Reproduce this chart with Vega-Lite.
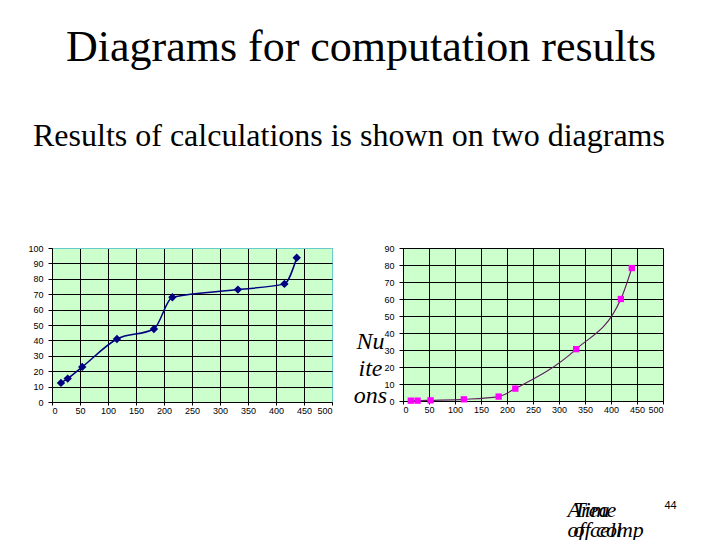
{
  "$schema": "https://vega.github.io/schema/vega-lite/v6.json",
  "background": "white",
  "padding": {"left": 27, "top": 25, "right": 5, "bottom": 0},
  "title": {"text": "Diagrams for computation results", "font": "Liberation Serif", "fontSize": 44, "fontWeight": "normal", "color": "black", "anchor": "middle", "offset": 50, "dx": 9},
  "bounds": "flush",
  "spacing": 71,
  "datasets": {
    "left": [
      {"x": 16, "y": 12.4}, {"x": 28, "y": 15.2}, {"x": 54, "y": 22.8}, {"x": 116, "y": 40.9},
      {"x": 182, "y": 47.4}, {"x": 215, "y": 68}, {"x": 332, "y": 73}, {"x": 415, "y": 76.7}, {"x": 437, "y": 93.7}
    ],
    "right": [
      {"x": 15, "y": 0.2}, {"x": 28, "y": 0.2}, {"x": 53, "y": 0.4}, {"x": 117, "y": 1},
      {"x": 184, "y": 2.6}, {"x": 216, "y": 7.3}, {"x": 333, "y": 30.5}, {"x": 419, "y": 60}, {"x": 440, "y": 78.2}
    ]
  },
  "config": {
    "axis": {"labelFont": "Liberation Sans", "labelFontSize": 9, "labelColor": "black", "domainColor": "black", "tickColor": "black", "tickSize": 4, "labelPadding": 5, "gridColor": "black", "gridOpacity": 1, "gridWidth": 1, "domainWidth": 1, "titleColor": "black"},
    "axisX": {"tickSize": 3, "labelPadding": 1}
  },
  "hconcat": [
    {
      "width": 280, "height": 154,
      "view": {"fill": "#ccffcc", "stroke": "#66cccc"},
      "title": {"text": "Results of calculations is shown on two diagrams", "font": "Liberation Serif", "fontSize": 32, "fontWeight": "normal", "color": "black", "anchor": "start", "frame": "group", "dx": -19, "offset": 91},
      "data": {"name": "left"},
      "encoding": {
        "x": {"field": "x", "type": "quantitative", "scale": {"domain": [0, 500], "nice": false},
          "axis": {"values": [0, 50, 100, 150, 200, 250, 300, 350, 400, 450, 500], "grid": true,
            "gridColor": {"condition": {"test": "datum.value === 500", "value": "#66cccc"}, "value": "black"},
            "title": "44", "titleFont": "Liberation Sans", "titleFontSize": 11, "titleFontWeight": "normal", "titleX": 618, "titleY": 106, "titleAlign": "center", "titleBaseline": "alphabetic"}},
        "y": {"field": "y", "type": "quantitative", "scale": {"domain": [0, 100], "nice": false},
          "axis": {"values": [0, 10, 20, 30, 40, 50, 60, 70, 80, 90, 100], "grid": true,
            "gridColor": {"condition": {"test": "datum.value === 100", "value": "#66cccc"}, "value": "black"},
            "title": ["Time", "of comp"], "titleAngle": 0, "titleAlign": "left", "titleBaseline": "alphabetic", "titleX": 521, "titleY": 268,
            "titleFont": "Liberation Serif", "titleFontStyle": "italic", "titleFontSize": 22, "titleFontWeight": "normal", "titleLineHeight": 20}}
      },
      "layer": [
        {"mark": {"type": "line", "color": "#000080", "strokeWidth": 1.5, "interpolate": "monotone"}},
        {"mark": {"type": "point", "shape": "diamond", "filled": true, "color": "#000080", "size": 70, "opacity": 1}}
      ]
    },
    {
      "width": 260, "height": 153,
      "view": {"fill": "#ccffcc", "stroke": null},
      "data": {"name": "right"},
      "encoding": {
        "x": {"field": "x", "type": "quantitative", "scale": {"domain": [0, 500], "nice": false},
          "axis": {"values": [0, 50, 100, 150, 200, 250, 300, 350, 400, 450, 500], "grid": true,
            "title": ["Area", "of cell"], "titleAngle": 0, "titleAlign": "left", "titleBaseline": "alphabetic", "titleX": 164, "titleY": 115,
            "titleFont": "Liberation Serif", "titleFontStyle": "italic", "titleFontSize": 22, "titleFontWeight": "normal", "titleLineHeight": 20}},
        "y": {"field": "y", "type": "quantitative", "scale": {"domain": [0, 90], "nice": false},
          "axis": {"values": [0, 10, 20, 30, 40, 50, 60, 70, 80, 90], "grid": true,
            "title": ["Nu", " ", "ite", "ons"], "titleAngle": 0, "titleAlign": "center", "titleBaseline": "alphabetic", "titleX": -33, "titleY": 100,
            "titleFont": "Liberation Serif", "titleFontStyle": "italic", "titleFontSize": 24, "titleFontWeight": "normal", "titleLineHeight": 27}}
      },
      "layer": [
        {"mark": {"type": "line", "color": "#602060", "strokeWidth": 1.2, "interpolate": "monotone"}},
        {"mark": {"type": "point", "shape": "square", "filled": true, "color": "#ff00ff", "size": 40, "opacity": 1}}
      ]
    }
  ]
}
